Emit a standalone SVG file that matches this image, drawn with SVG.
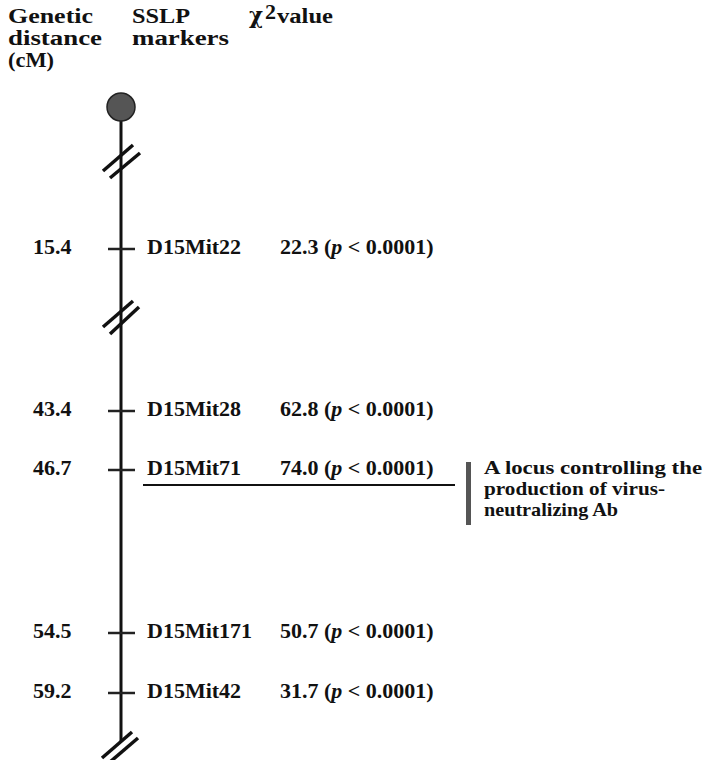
<svg xmlns="http://www.w3.org/2000/svg" width="708" height="760" viewBox="0 0 708 760">
<style>
text{font-family:"Liberation Serif","Times New Roman",serif;font-weight:bold;fill:#111;font-size:22px}
.h{font-size:20px}
.lc{font-size:19.5px}
.ln{stroke:#111;stroke-width:3;fill:none}
.tk{stroke:#222;stroke-width:2.5}
.br{stroke:#111;stroke-width:3.5;stroke-linecap:butt}
</style>
<rect width="708" height="760" fill="#fff"/>
<g id="headers">
<text class="h" x="8" y="23" textLength="85" lengthAdjust="spacingAndGlyphs">Genetic</text>
<text class="h" x="8" y="45" textLength="94" lengthAdjust="spacingAndGlyphs">distance</text>
<text class="h" x="8" y="67" textLength="46" lengthAdjust="spacingAndGlyphs">(cM)</text>
<text class="h" x="132" y="23" textLength="58" lengthAdjust="spacingAndGlyphs">SSLP</text>
<text class="h" x="132" y="45" textLength="97" lengthAdjust="spacingAndGlyphs">markers</text>
<text x="249" y="23" font-size="20" font-weight="normal" style="font-family:'DejaVu Serif',serif" textLength="14" lengthAdjust="spacingAndGlyphs">χ</text>
<text x="265" y="19" font-size="12">2</text>
<text class="h" x="277" y="23" textLength="56" lengthAdjust="spacingAndGlyphs">value</text>
</g>
<g id="connectors">
<line class="ln" x1="121" y1="118" x2="121" y2="741"/>
<line class="br" x1="103" y1="171" x2="133" y2="145"/>
<line class="br" x1="110" y1="178" x2="140" y2="153"/>
<line class="br" x1="103" y1="327" x2="133" y2="301"/>
<line class="br" x1="110" y1="334" x2="139" y2="307"/>
<line class="br" x1="102" y1="758" x2="132" y2="732"/>
<line class="br" x1="110" y1="762" x2="138" y2="738"/>
<line stroke="#111" stroke-width="2" x1="143" y1="485" x2="455" y2="485"/>
</g>
<g id="centromere">
<circle cx="121" cy="107" r="14" fill="#555" stroke="#222" stroke-width="1.5"/>
</g>
<g id="m1">
<line class="tk" x1="108" y1="249" x2="135" y2="249"/>
<text x="33" y="254">15.4</text>
<text x="147" y="254">D15Mit22</text>
<text x="280" y="254">22.3 (<tspan font-style="italic">p</tspan> &lt; 0.0001)</text>
</g>
<g id="m2">
<line class="tk" x1="108" y1="411" x2="135" y2="411"/>
<text x="33" y="416">43.4</text>
<text x="147" y="416">D15Mit28</text>
<text x="280" y="416">62.8 (<tspan font-style="italic">p</tspan> &lt; 0.0001)</text>
</g>
<g id="m3">
<line class="tk" x1="108" y1="470" x2="135" y2="470"/>
<text x="33" y="475">46.7</text>
<text x="147" y="475">D15Mit71</text>
<text x="280" y="475">74.0 (<tspan font-style="italic">p</tspan> &lt; 0.0001)</text>
</g>
<g id="m4">
<line class="tk" x1="108" y1="633" x2="135" y2="633"/>
<text x="33" y="638">54.5</text>
<text x="147" y="638">D15Mit171</text>
<text x="280" y="638">50.7 (<tspan font-style="italic">p</tspan> &lt; 0.0001)</text>
</g>
<g id="m5">
<line class="tk" x1="108" y1="693" x2="135" y2="693"/>
<text x="33" y="698">59.2</text>
<text x="147" y="698">D15Mit42</text>
<text x="280" y="698">31.7 (<tspan font-style="italic">p</tspan> &lt; 0.0001)</text>
</g>
<g id="locus">
<rect x="466" y="462" width="5" height="63" fill="#555"/>
<text class="lc" x="484" y="474" textLength="218" lengthAdjust="spacingAndGlyphs">A locus controlling the</text>
<text class="lc" x="484" y="495" textLength="181" lengthAdjust="spacingAndGlyphs">production of virus-</text>
<text class="lc" x="484" y="516" textLength="134" lengthAdjust="spacingAndGlyphs">neutralizing Ab</text>
</g>
</svg>
